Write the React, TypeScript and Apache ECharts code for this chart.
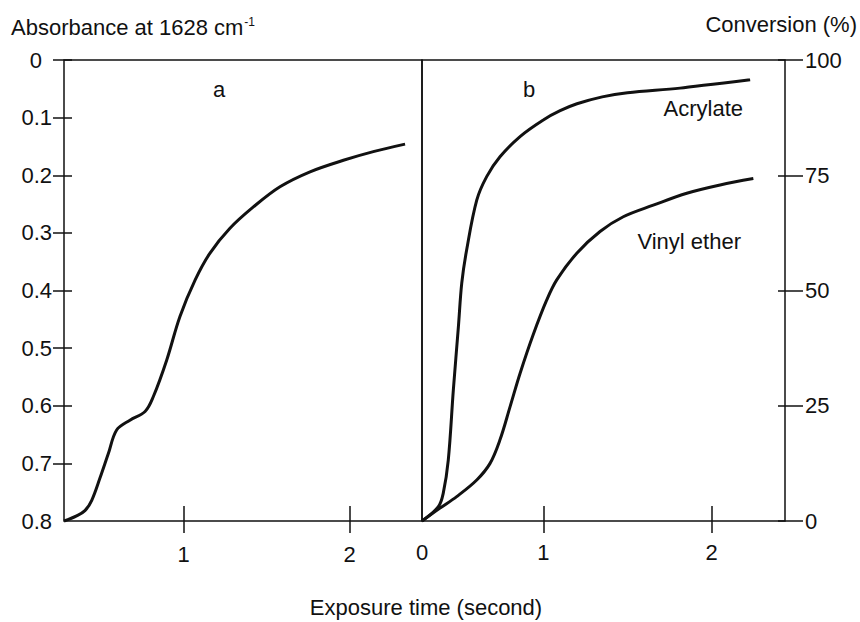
import React, { useEffect, useRef } from "react";
import * as echarts from "echarts";

// Time axis (seconds) as drawn in the figure: each panel starts at its origin, labelled 0 on panel b
const X_MIN = 0.28;
const X_MAX = 2.435;
const X_TICKS = [1, 2];
const X_LABELS_B = [0.28, 1, 2];

// Absorbance axis (panel a, inverted)
const ABS_TICKS = [0, 0.1, 0.2, 0.3, 0.4, 0.5, 0.6, 0.7];
const ABS_LABELS = [0, 0.1, 0.2, 0.3, 0.4, 0.5, 0.6, 0.7, 0.8];

// Conversion axis (panel b)
const CONV_TICKS = [0, 25, 50, 75, 100];

// Panel a: absorbance at 1628 cm-1 vs exposure time
const absTime = [0.28, 0.356, 0.406, 0.447, 0.497, 0.547, 0.597, 0.677, 0.768, 0.818, 0.898, 0.978, 1.069, 1.159, 1.279, 1.42, 1.58, 1.761, 1.962, 2.142, 2.333];
const absorbance = [0.8, 0.791, 0.782, 0.764, 0.725, 0.683, 0.642, 0.625, 0.61, 0.584, 0.521, 0.445, 0.382, 0.335, 0.292, 0.255, 0.22, 0.194, 0.174, 0.159, 0.146];

// Panel b: conversion (%) vs exposure time
const acrylateTime = [0.28, 0.377, 0.406, 0.436, 0.466, 0.496, 0.516, 0.545, 0.605, 0.664, 0.743, 0.862, 1.0, 1.1, 1.2, 1.35, 1.5, 1.812, 2.228];
const acrylateConv = [0, 3.1, 6.0, 13.2, 28.4, 42.1, 51.6, 58.8, 69.6, 74.7, 79.0, 83.4, 87.0, 89.0, 90.5, 92.0, 92.9, 93.9, 95.7];

const vinylTime = [0.28, 0.387, 0.486, 0.605, 0.684, 0.743, 0.803, 0.862, 0.941, 1.02, 1.08, 1.199, 1.337, 1.475, 1.653, 1.852, 2.05, 2.247];
const vinylConv = [0, 2.8, 5.3, 8.9, 12.5, 17.6, 24.8, 32.0, 40.5, 47.9, 52.3, 58.1, 62.8, 66.0, 68.5, 71.1, 72.9, 74.3];

const FONT = "'Liberation Sans', Arial, Helvetica, sans-serif";
const INK = "#111111";
const FS = 22;

const zip = (a: number[], b: number[]) => a.map((v, i) => [v, b[i]]);

export default function App() {
  const ref = useRef<HTMLDivElement>(null);

  useEffect(() => {
    document.body.style.margin = "0";
    if (!ref.current) return;
    const chart = echarts.init(ref.current, undefined, { renderer: "svg" });

    const tickLine = { color: INK, width: 1.5 };
    const label = { fontSize: FS, color: INK, fontFamily: FONT };
    const curve = { color: INK, width: 3 };

    const option: any = {
      animation: false,
      backgroundColor: "#ffffff",
      textStyle: { fontFamily: FONT, color: INK },
      grid: [
        { left: 64, top: 60, width: 358, height: 461, show: true, borderColor: INK, borderWidth: 1.5 },
        { left: 422, top: 60, width: 363, height: 461, show: true, borderColor: INK, borderWidth: 1.5 },
      ],
      xAxis: [
        {
          gridIndex: 0, type: "value", min: X_MIN, max: X_MAX, position: "bottom", offset: -15,
          axisLine: { show: false, onZero: false }, splitLine: { show: false },
          axisTick: { show: true, inside: false, length: 27, lineStyle: tickLine, customValues: X_TICKS },
          axisLabel: { ...label, customValues: X_TICKS, margin: 37, formatter: (v: number) => String(Math.round(v)) },
        },
        {
          gridIndex: 1, type: "value", min: X_MIN, max: X_MAX, position: "bottom", offset: -15,
          axisLine: { show: false, onZero: false }, splitLine: { show: false },
          axisTick: { show: true, inside: false, length: 27, lineStyle: tickLine, customValues: X_TICKS },
          axisLabel: { ...label, customValues: X_LABELS_B, margin: 35, formatter: (v: number) => (v < 0.5 ? "0" : String(Math.round(v))) },
        },
      ],
      yAxis: [
        {
          gridIndex: 0, type: "value", min: 0, max: 0.8, inverse: true, position: "left", offset: -8,
          axisLine: { show: false, onZero: false }, splitLine: { show: false },
          axisTick: { show: true, inside: false, length: 19, lineStyle: tickLine, customValues: ABS_TICKS },
          axisLabel: {
            ...label, customValues: ABS_LABELS, margin: 20,
            formatter: (v: number) => (v === 0 ? "{z|0}" : v.toFixed(1)),
            rich: { z: { fontSize: FS, color: INK, fontFamily: FONT, padding: [0, 10, 0, 0] } },
          },
        },
        {
          gridIndex: 1, type: "value", min: 0, max: 100, position: "right", offset: -7,
          axisLine: { show: false, onZero: false }, splitLine: { show: false },
          axisTick: { show: true, inside: false, length: 25, lineStyle: tickLine, customValues: CONV_TICKS },
          axisLabel: { ...label, customValues: CONV_TICKS, margin: 27 },
        },
      ],
      series: [
        {
          name: "Absorbance", type: "line", xAxisIndex: 0, yAxisIndex: 0,
          data: zip(absTime, absorbance), showSymbol: false, smooth: 0.35,
          lineStyle: curve, clip: false,
        },
        {
          name: "Acrylate", type: "line", xAxisIndex: 1, yAxisIndex: 1,
          data: zip(acrylateTime, acrylateConv), showSymbol: false, smooth: 0.35,
          lineStyle: curve, clip: false,
        },
        {
          name: "Vinyl ether", type: "line", xAxisIndex: 1, yAxisIndex: 1,
          data: zip(vinylTime, vinylConv), showSymbol: false, smooth: 0.35,
          lineStyle: curve, clip: false,
        },
      ],
      graphic: [
        {
          type: "text", left: 11, top: 14,
          style: {
            text: "{m|Absorbance at 1628 cm}{s|-1}",
            rich: {
              m: { fontSize: FS, fontFamily: FONT, fill: INK, lineHeight: 24, verticalAlign: "bottom" },
              s: { fontSize: 12, fontFamily: FONT, fill: INK, lineHeight: 24, verticalAlign: "top", padding: [2, 0, 0, 1] },
            },
          },
        },
        {
          type: "text", x: 857, y: 24,
          style: { text: "Conversion (%)", fontSize: FS, fontFamily: FONT, fill: INK, align: "right", verticalAlign: "middle" },
        },
        {
          type: "text", x: 426, y: 607,
          style: { text: "Exposure time (second)", fontSize: FS, fontFamily: FONT, fill: INK, align: "center", verticalAlign: "middle" },
        },
        {
          type: "text", x: 219, y: 89,
          style: { text: "a", fontSize: FS, fontFamily: FONT, fill: INK, align: "center", verticalAlign: "middle" },
        },
        {
          type: "text", x: 529, y: 89,
          style: { text: "b", fontSize: FS, fontFamily: FONT, fill: INK, align: "center", verticalAlign: "middle" },
        },
        {
          type: "text", x: 743, y: 108,
          style: { text: "Acrylate", fontSize: FS, fontFamily: FONT, fill: INK, align: "right", verticalAlign: "middle" },
        },
        {
          type: "text", x: 741, y: 241,
          style: { text: "Vinyl ether", fontSize: FS, fontFamily: FONT, fill: INK, align: "right", verticalAlign: "middle" },
        },
      ],
    };

    chart.setOption(option);
    return () => chart.dispose();
  }, []);

  return <div ref={ref} style={{ width: 860, height: 622 }} />;
}
